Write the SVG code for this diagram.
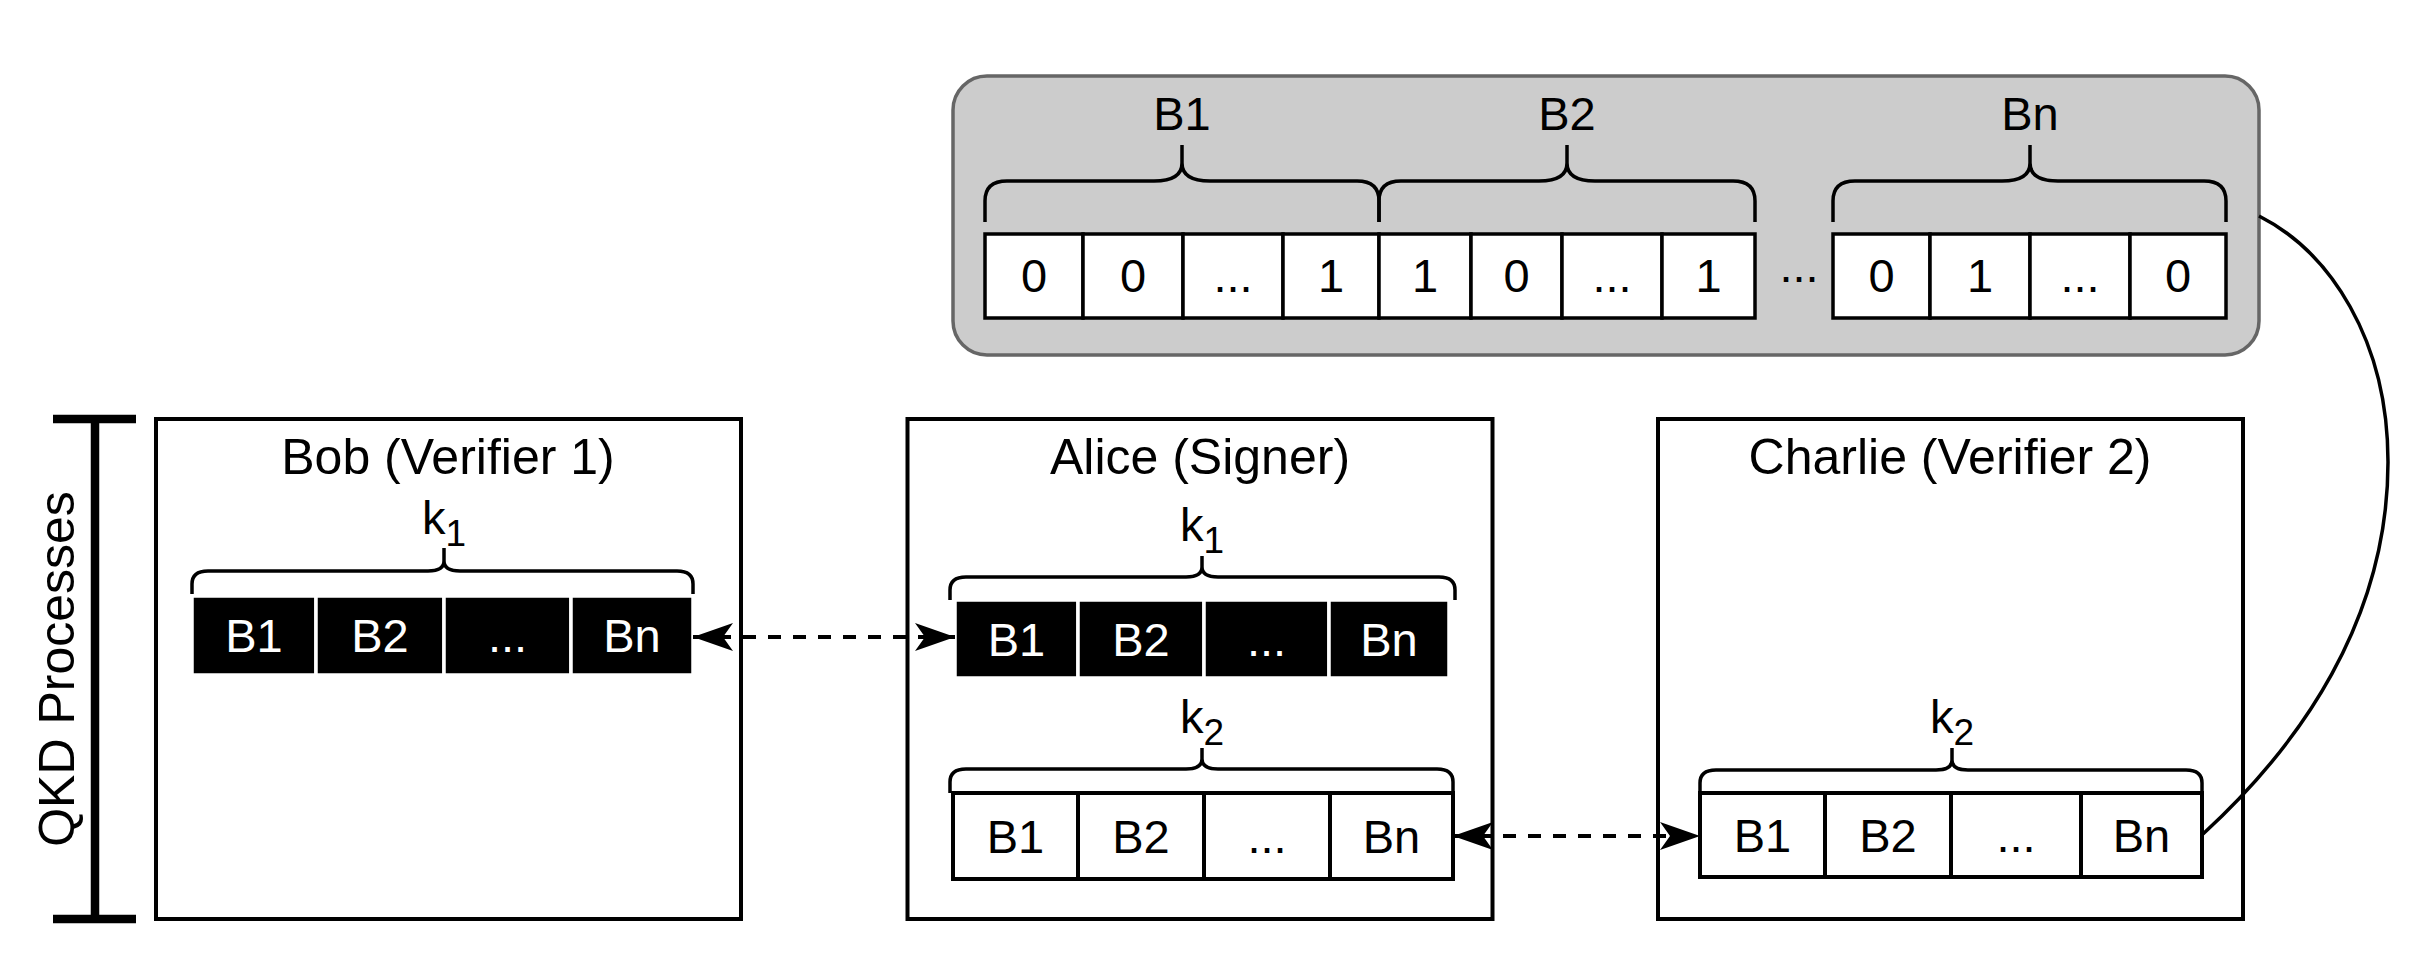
<svg xmlns="http://www.w3.org/2000/svg" width="2418" height="978" viewBox="0 0 2418 978">
<defs>
<style>
text{font-family:"Liberation Sans",Arial,Helvetica,sans-serif;fill:#000;text-anchor:middle}
.t{font-size:50px}
.c{font-size:47px}
.w{fill:#fff}
.box{fill:#fff;stroke:#000;stroke-width:4}
.cell{fill:#fff;stroke:#000;stroke-width:3.5}
.blk{fill:#000;stroke:#fff;stroke-width:3.5}
.brace{fill:none;stroke:#000;stroke-width:3.5;stroke-linecap:butt}
.dash{fill:none;stroke:#000;stroke-width:4;stroke-dasharray:13 12}
.sub{font-size:37px}
</style>
<marker id="arr" markerUnits="userSpaceOnUse" markerWidth="40" markerHeight="28" refX="40" refY="14" orient="auto-start-reverse" viewBox="0 0 40 28">
<path d="M40,14 L0,0 L10,14 L0,28 Z" fill="#000"/>
</marker>
</defs>
<rect width="2418" height="978" fill="#fff"/>

<g id="bits-panel">
<rect x="953" y="76" width="1306" height="279" rx="34" ry="34" fill="#cccccc" stroke="#666666" stroke-width="3.5"/>
<path class="brace" d="M985,222 V201 Q985,181 1007,181 H1154 Q1182,181 1182,163 V145 M1182,163 Q1182,181 1210,181 H1357 Q1379,181 1379,201 V222"/>
<path class="brace" d="M1379,222 V201 Q1379,181 1401,181 H1539 Q1567,181 1567,163 V145 M1567,163 Q1567,181 1595,181 H1733 Q1755,181 1755,201 V222"/>
<path class="brace" d="M1833,222 V201 Q1833,181 1855,181 H2002 Q2030,181 2030,163 V145 M2030,163 Q2030,181 2058,181 H2204 Q2226,181 2226,201 V222"/>
<text class="c" x="1182" y="130">B1</text>
<text class="c" x="1567" y="130">B2</text>
<text class="c" x="2030" y="130">Bn</text>
<rect class="cell" x="985" y="234" width="98" height="84"/>
<rect class="cell" x="1083" y="234" width="100" height="84"/>
<rect class="cell" x="1183" y="234" width="100" height="84"/>
<rect class="cell" x="1283" y="234" width="96" height="84"/>
<rect class="cell" x="1379" y="234" width="92" height="84"/>
<rect class="cell" x="1471" y="234" width="91" height="84"/>
<rect class="cell" x="1562" y="234" width="100" height="84"/>
<rect class="cell" x="1662" y="234" width="93" height="84"/>
<rect class="cell" x="1833" y="234" width="97" height="84"/>
<rect class="cell" x="1930" y="234" width="100" height="84"/>
<rect class="cell" x="2030" y="234" width="100" height="84"/>
<rect class="cell" x="2130" y="234" width="96" height="84"/>
<text class="c" x="1034" y="292">0</text>
<text class="c" x="1133" y="292">0</text>
<text class="c" x="1233" y="292">...</text>
<text class="c" x="1331" y="292">1</text>
<text class="c" x="1425" y="292">1</text>
<text class="c" x="1516.5" y="292">0</text>
<text class="c" x="1612" y="292">...</text>
<text class="c" x="1708.5" y="292">1</text>
<text class="c" x="1799" y="282">...</text>
<text class="c" x="1881.5" y="292">0</text>
<text class="c" x="1980" y="292">1</text>
<text class="c" x="2080" y="292">...</text>
<text class="c" x="2178" y="292">0</text>
</g>

<g id="qkd-bracket">
<path d="M53,419 H136 M95,419 V919 M53,919 H136" fill="none" stroke="#000" stroke-width="8.5"/>
<text x="74" y="669" transform="rotate(-90 74 669)" style="font-size:50px">QKD Processes</text>
</g>

<g id="bob">
<rect class="box" x="156" y="419" width="585" height="500"/>
<text class="t" x="448" y="474">Bob (Verifier 1)</text>
<text class="c" x="444" y="534">k<tspan class="sub" dy="12">1</tspan></text>
<path class="brace" d="M192,594 V584 Q192,571 208,571 H428 Q444,571 444,561 V548 M444,561 Q444,571 460,571 H677 Q693,571 693,584 V594"/>
<rect class="blk" x="192" y="596" width="124" height="79"/>
<rect class="blk" x="316" y="596" width="128" height="79"/>
<rect class="blk" x="444" y="596" width="127" height="79"/>
<rect class="blk" x="571" y="596" width="122" height="79"/>
<text class="c w" x="254" y="652">B1</text>
<text class="c w" x="380" y="652">B2</text>
<text class="c w" x="507.5" y="652">...</text>
<text class="c w" x="632" y="652">Bn</text>
</g>

<g id="alice">
<rect class="box" x="907.5" y="419" width="585" height="500"/>
<text class="t" x="1200" y="474">Alice (Signer)</text>
<text class="c" x="1202" y="541">k<tspan class="sub" dy="12">1</tspan></text>
<path class="brace" d="M950,600 V590 Q950,577 966,577 H1186 Q1202,577 1202,567 V556 M1202,567 Q1202,577 1218,577 H1439 Q1455,577 1455,590 V600"/>
<rect class="blk" x="955" y="600" width="123" height="78"/>
<rect class="blk" x="1078" y="600" width="126" height="78"/>
<rect class="blk" x="1204" y="600" width="125" height="78"/>
<rect class="blk" x="1329" y="600" width="120" height="78"/>
<text class="c w" x="1016.5" y="656">B1</text>
<text class="c w" x="1141" y="656">B2</text>
<text class="c w" x="1266.5" y="656">...</text>
<text class="c w" x="1389" y="656">Bn</text>
<text class="c" x="1202" y="733">k<tspan class="sub" dy="12">2</tspan></text>
<path class="brace" d="M950,793 V782 Q950,769 966,769 H1186 Q1202,769 1202,759 V748 M1202,759 Q1202,769 1218,769 H1437 Q1453,769 1453,782 V793"/>
<rect class="cell" x="953" y="793" width="125" height="86" style="stroke-width:4"/>
<rect class="cell" x="1078" y="793" width="126" height="86" style="stroke-width:4"/>
<rect class="cell" x="1204" y="793" width="126" height="86" style="stroke-width:4"/>
<rect class="cell" x="1330" y="793" width="123" height="86" style="stroke-width:4"/>
<text class="c" x="1015.5" y="853">B1</text>
<text class="c" x="1141" y="853">B2</text>
<text class="c" x="1267" y="853">...</text>
<text class="c" x="1391.5" y="853">Bn</text>
</g>

<g id="charlie">
<rect class="box" x="1658" y="419" width="585" height="500"/>
<text class="t" x="1950" y="474">Charlie (Verifier 2)</text>
<text class="c" x="1952" y="733">k<tspan class="sub" dy="12">2</tspan></text>
<path class="brace" d="M1700,793 V783 Q1700,770 1716,770 H1936 Q1952,770 1952,760 V748 M1952,760 Q1952,770 1968,770 H2186 Q2202,770 2202,783 V793"/>
<rect class="cell" x="1700" y="793" width="125" height="84" style="stroke-width:4"/>
<rect class="cell" x="1825" y="793" width="126" height="84" style="stroke-width:4"/>
<rect class="cell" x="1951" y="793" width="130" height="84" style="stroke-width:4"/>
<rect class="cell" x="2081" y="793" width="121" height="84" style="stroke-width:4"/>
<text class="c" x="1762.5" y="852">B1</text>
<text class="c" x="1888" y="852">B2</text>
<text class="c" x="2016" y="852">...</text>
<text class="c" x="2141.5" y="852">Bn</text>
</g>

<g id="connectors">
<path class="dash" d="M693,637 H955" marker-start="url(#arr)" marker-end="url(#arr)"/>
<path class="dash" d="M1453,836 H1700" marker-start="url(#arr)" marker-end="url(#arr)"/>
<path d="M2259,216 C2330,252 2388,340 2388,462 C2388,620 2300,745 2203,834" fill="none" stroke="#000" stroke-width="3.5"/>
</g>
</svg>
